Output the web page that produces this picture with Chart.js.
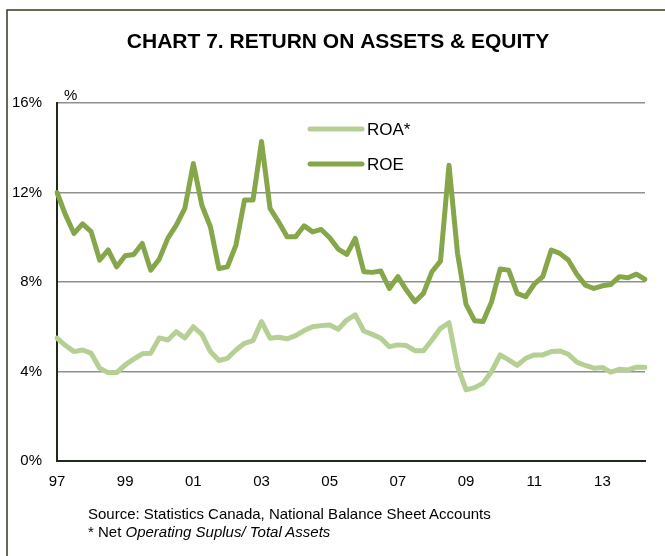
<!DOCTYPE html>
<html>
<head>
<meta charset="utf-8">
<script src="https://cdn.jsdelivr.net/npm/chart.js@4.4.0/dist/chart.umd.min.js"></script>
<style>
  body { margin: 0; background: #fff; }
  #wrap { position: relative; width: 665px; height: 556px; overflow: hidden; }
  #wrap canvas { position: absolute; left: 0; top: 0; }
  .note { position: absolute; left: 88px; font: 15px 'Liberation Sans', Arial, sans-serif; color: #000; white-space: nowrap; }
</style>
</head>
<body>
<div id="wrap">
  <canvas id="roaRoe" width="665" height="556"></canvas>
  <div class="note" style="top:505px">Source: Statistics Canada, National Balance Sheet Accounts</div>
  <div class="note" style="top:523px">* Net <i>Operating Suplus/ Total Assets</i></div>
</div>
<script>
// quarterly, 1997Q1 .. 2014Q2
const startYear = 1997;
const yearTicks = ['97', '99', '01', '03', '05', '07', '09', '11', '13'];

const roa = [5.49, 5.16, 4.89, 4.96, 4.82, 4.15, 3.95, 3.95, 4.3, 4.55, 4.79, 4.82, 5.5,
  5.41, 5.78, 5.5, 6.0, 5.66, 4.89, 4.49, 4.59, 4.96, 5.26, 5.38, 6.23,
  5.49, 5.53, 5.46, 5.6, 5.83, 6.0, 6.05, 6.08, 5.89, 6.3, 6.53, 5.81,
  5.66, 5.49, 5.11, 5.19, 5.16, 4.93, 4.93, 5.41, 5.93, 6.18, 4.22, 3.18, 3.28,
  3.48, 4.0, 4.74, 4.52, 4.27, 4.59, 4.74, 4.74, 4.89, 4.92, 4.77, 4.42,
  4.27, 4.15, 4.18, 3.97, 4.1, 4.07, 4.19, 4.19];

const roe = [12.0, 11.0, 10.17, 10.6, 10.25, 8.98, 9.43, 8.68, 9.17, 9.23, 9.72, 8.53, 9.02,
  9.95, 10.54, 11.29, 13.3, 11.43, 10.47, 8.6, 8.68, 9.65, 11.66, 11.66, 14.28,
  11.29, 10.69, 10.02, 10.02, 10.51, 10.24, 10.35, 9.98, 9.47, 9.23, 9.95, 8.46,
  8.43, 8.49, 7.71, 8.24, 7.64, 7.12, 7.49, 8.46, 8.93, 13.22, 9.28, 7.0, 6.27,
  6.23, 7.12, 8.58, 8.53, 7.49, 7.34, 7.9, 8.24, 9.43, 9.28, 8.98, 8.35,
  7.86, 7.71, 7.83, 7.89, 8.24, 8.19, 8.35, 8.12];

const quarters = roe.map((v, i) => (startYear + Math.floor(i / 4)) + 'Q' + (i % 4 + 1));

const FONT = "'Liberation Sans', Arial, sans-serif";
Chart.defaults.font.family = FONT;
Chart.defaults.font.size = 15;
Chart.defaults.color = '#000';

// frame, title, % label and in-plot legend
const decorations = {
  id: 'decorations',
  beforeDraw(chart) {
    const c = chart.ctx;
    c.save();
    c.fillStyle = '#fff';
    c.fillRect(0, 0, chart.width, chart.height);
    c.strokeStyle = '#2f3b22';
    c.lineWidth = 1.5;
    c.beginPath();
    c.moveTo(7, chart.height);
    c.lineTo(7, 10);
    c.lineTo(chart.width, 10);
    c.stroke();
    c.fillStyle = '#000';
    c.font = 'bold 21px ' + FONT;
    c.textAlign = 'center';
    c.textBaseline = 'middle';
    c.fillText('CHART 7. RETURN ON ASSETS & EQUITY', 338, 42);
    c.font = '15px ' + FONT;
    c.textAlign = 'left';
    c.textBaseline = 'alphabetic';
    c.fillText('%', 64, 100);
    c.restore();
  },
  afterDatasetsDraw(chart) {
    const c = chart.ctx;
    c.save();
    c.lineCap = 'round';
    c.font = '17px ' + FONT;
    c.textBaseline = 'middle';
    c.fillStyle = '#000';
    chart.data.datasets.forEach((ds, k) => {
      const y = 129 + k * 35;
      c.strokeStyle = ds.borderColor;
      c.lineWidth = 5;
      c.beginPath();
      c.moveTo(310, y);
      c.lineTo(362, y);
      c.stroke();
      c.fillText(ds.label, 367, y + 1);
    });
    c.restore();
  }
};

new Chart(document.getElementById('roaRoe'), {
  type: 'line',
  data: {
    labels: quarters,
    datasets: [
      { label: 'ROA*', data: roa, borderColor: '#b6cf95', borderWidth: 5 },
      { label: 'ROE', data: roe, borderColor: '#86a64a', borderWidth: 5 }
    ]
  },
  options: {
    responsive: false,
    animation: false,
    devicePixelRatio: 1,
    layout: { padding: { top: 103, right: 20, left: 0, bottom: 0 } },
    elements: {
      point: { radius: 0 },
      line: { tension: 0, borderJoinStyle: 'round', borderCapStyle: 'round' }
    },
    plugins: {
      legend: { display: false },
      title: { display: false },
      tooltip: { enabled: false }
    },
    scales: {
      x: {
        offset: false,
        grid: { display: false, drawTicks: false },
        border: { display: true, color: '#1f2a14', width: 2 },
        ticks: {
          autoSkip: false,
          maxRotation: 0,
          padding: 12,
          callback: (v, i) => (i % 8 === 0 ? yearTicks[i / 8] : null)
        },
        afterFit: s => { s.height = 95; }
      },
      y: {
        min: 0,
        max: 16,
        grid: {
          drawTicks: false,
          lineWidth: 1.5,
          color: ctx => (ctx.tick && ctx.tick.value === 0 ? 'rgba(0,0,0,0)' : '#8f8f8f')
        },
        border: { display: true, color: '#1f2a14', width: 2 },
        ticks: { stepSize: 4, padding: 15, callback: v => v + '%' },
        afterFit: s => { s.width = 57; }
      }
    }
  },
  plugins: [decorations]
});
</script>
</body>
</html>
